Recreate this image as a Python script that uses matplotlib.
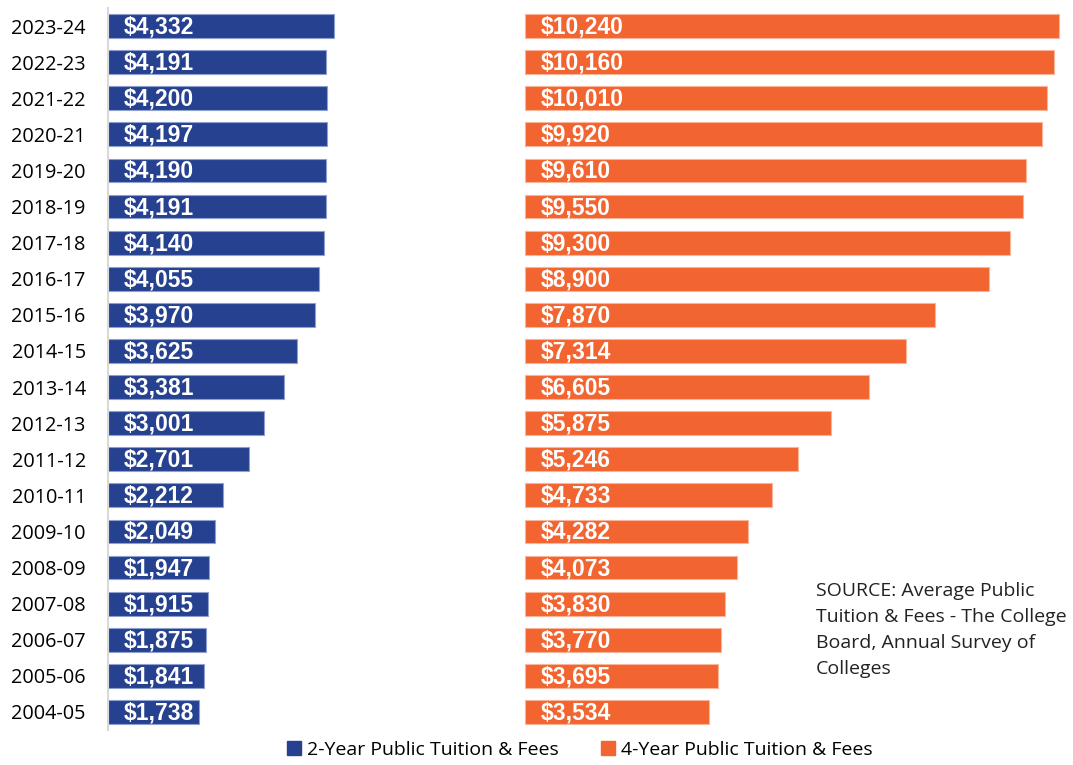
import matplotlib
matplotlib.use("Agg")
import matplotlib.pyplot as plt
from matplotlib.patches import Patch

# academic years, oldest first
years = ["2004-05", "2005-06", "2006-07", "2007-08", "2008-09", "2009-10",
         "2010-11", "2011-12", "2012-13", "2013-14", "2014-15", "2015-16",
         "2016-17", "2017-18", "2018-19", "2019-20", "2020-21", "2021-22",
         "2022-23", "2023-24"]

two_year = [1738, 1841, 1875, 1915, 1947, 2049, 2212, 2701, 3001, 3381,
            3625, 3970, 4055, 4140, 4191, 4190, 4197, 4200, 4191, 4332]

four_year = [3534, 3695, 3770, 3830, 4073, 4282, 4733, 5246, 5875, 6605,
             7314, 7870, 8900, 9300, 9550, 9610, 9920, 10010, 10160, 10240]

# the 4-year bars all start from the same spot, as in the excel sheet
offset = 8000

blue = "#264190"
orange = "#F26430"

plt.rcParams["font.family"] = ["Open Sans", "DejaVu Sans"]

fig = plt.figure(figsize=(10.73, 7.65), dpi=100)
ax = fig.add_axes([108 / 1073, 1 - 730 / 765, 960 / 1073, 722 / 765])

pos = list(range(len(years)))
ax.barh(pos, two_year, height=0.66, color=blue, edgecolor="#8fa0cf", linewidth=0.8)
ax.barh(pos, four_year, left=offset, height=0.66, color=orange,
        edgecolor="#f8b59a", linewidth=0.8)

for i in pos:
    ax.annotate(f"${two_year[i]:,}", (0, i), xytext=(16, -1), textcoords="offset pixels",
                ha="left", va="center", color="white", fontsize=16.5, fontweight="bold",
                family="Liberation Sans")
    ax.annotate(f"${four_year[i]:,}", (offset, i), xytext=(16, -1), textcoords="offset pixels",
                ha="left", va="center", color="white", fontsize=16.5, fontweight="bold",
                family="Liberation Sans")

ax.set_xlim(0, 18420)
ax.set_ylim(-0.5, len(years) - 0.5)
ax.set_yticks(pos)
ax.set_yticklabels(years, fontsize=14.3)
ax.tick_params(axis="y", length=0, pad=16)
ax.set_xticks([])
for s in ["top", "right", "bottom"]:
    ax.spines[s].set_visible(False)
ax.spines["left"].set_color("#d9d9d9")
ax.spines["left"].set_linewidth(1.5)

fig.text(816 / 1073, 1 - 582 / 765,
         "SOURCE: Average Public\nTuition & Fees - The College\nBoard, Annual Survey of\nColleges",
         ha="left", va="top", fontsize=14, linespacing=1.56, color="#222222")

handles = [Patch(color=blue), Patch(color=orange)]
fig.legend(handles, ["2-Year Public Tuition & Fees", "4-Year Public Tuition & Fees"],
           loc="center", bbox_to_anchor=(580 / 1073, 1 - 750 / 765), ncol=2, frameon=False,
           fontsize=14, handlelength=0.7, handleheight=0.7, handletextpad=0.3,
           columnspacing=2.2)

fig.savefig("out.png", dpi=100)
